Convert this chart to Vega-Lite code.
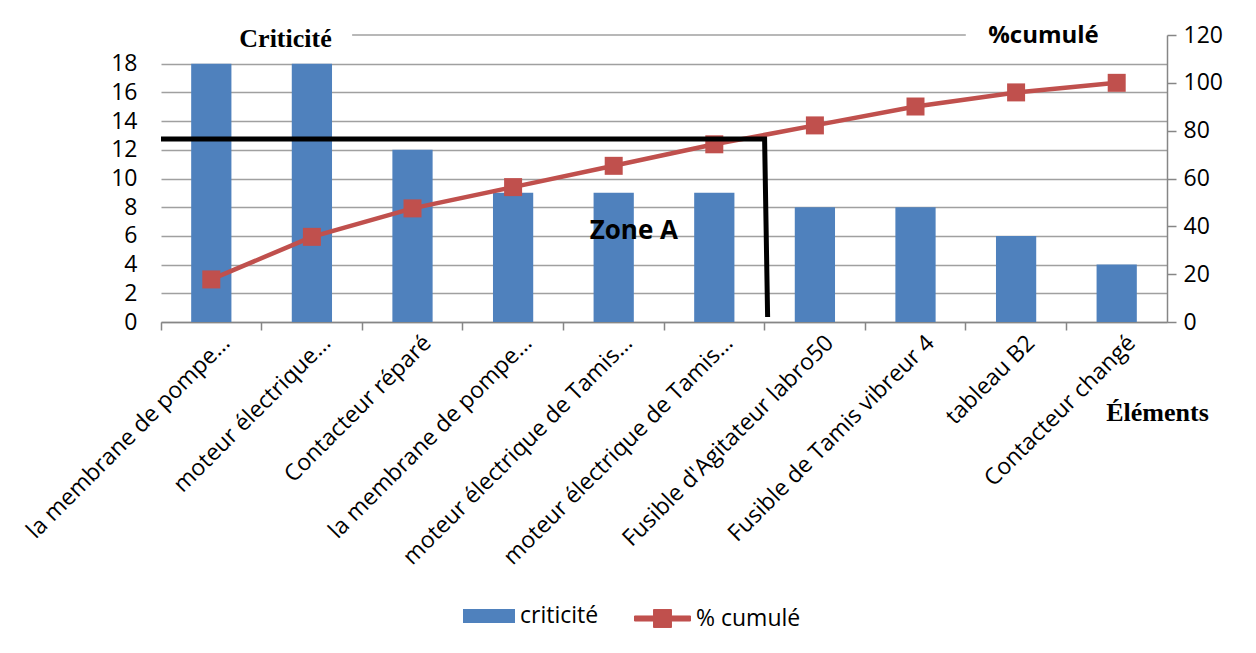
{
  "$schema": "https://vega.github.io/schema/vega-lite/v6.json",
  "width": 1006,
  "height": 287,
  "autosize": {"type": "none"},
  "padding": {"left": 161, "top": 35, "right": 89, "bottom": 331},
  "background": "white",
  "config": {
    "view": {"stroke": null},
    "font": "Open Sans",
    "axis": {"labelFont": "Open Sans", "labelColor": "black", "titleColor": "black"},
    "legend": {"labelFont": "Open Sans", "labelColor": "black"}
  },
  "datasets": {
    "pareto": [
      {"rang": 1, "element": "la membrane de pompe…", "criticite": 18, "cumul": 17.8},
      {"rang": 2, "element": "moteur électrique…", "criticite": 18, "cumul": 35.6},
      {"rang": 3, "element": "Contacteur réparé", "criticite": 12, "cumul": 47.5},
      {"rang": 4, "element": "la membrane de pompe…", "criticite": 9, "cumul": 56.4},
      {"rang": 5, "element": "moteur électrique de Tamis…", "criticite": 9, "cumul": 65.3},
      {"rang": 6, "element": "moteur électrique de Tamis…", "criticite": 9, "cumul": 74.3},
      {"rang": 7, "element": "Fusible d'Agitateur labro50", "criticite": 8, "cumul": 82.2},
      {"rang": 8, "element": "Fusible de Tamis vibreur 4", "criticite": 8, "cumul": 90.1},
      {"rang": 9, "element": "tableau B2", "criticite": 6, "cumul": 96.0},
      {"rang": 10, "element": "Contacteur changé", "criticite": 4, "cumul": 100}
    ]
  },
  "data": {"name": "pareto"},
  "layer": [
    {
      "layer": [
        {
          "mark": {"type": "bar"},
          "encoding": {
            "x": {
              "field": "rang",
              "type": "ordinal",
              "scale": {"paddingInner": 0.6, "paddingOuter": 0.3},
              "axis": {
                "bandPosition": -0.75,
                "labelExpr": "data('pareto')[datum.value - 1].element",
                "labelAngle": -45,
                "labelAlign": "right",
                "labelBaseline": "middle",
                "labelOffset": 15,
                "labelPadding": 9,
                "labelFontSize": 23,
                "labelLimit": 400,
                "labelBound": false,
                "labelOverlap": false,
                "labelFlush": false,
                "domainColor": "#868686",
                "domainWidth": 1.5,
                "tickColor": "#868686",
                "tickWidth": 1.5,
                "tickSize": 8,
                "grid": false,
                "title": "Éléments",
                "titleX": 996,
                "titleY": 90,
                "titleAlign": "center",
                "titleBaseline": "middle",
                "titleFont": "Liberation Serif",
                "titleFontSize": 26,
                "titleFontWeight": "bold"
              }
            },
            "y": {
              "field": "criticite",
              "type": "quantitative",
              "scale": {"domain": [0, 20], "nice": false},
              "axis": {
                "orient": "left",
                "values": [0, 2, 4, 6, 8, 10, 12, 14, 16, 18],
                "domain": false,
                "ticks": false,
                "grid": true,
                "gridColor": "#a0a0a0",
                "gridWidth": 1.5,
                "labelPadding": 24,
                "labelFontSize": 23,
                "title": "Criticité",
                "titleAngle": 0,
                "titleX": 124,
                "titleY": 3,
                "titleAlign": "center",
                "titleBaseline": "middle",
                "titleFont": "Liberation Serif",
                "titleFontSize": 26,
                "titleFontWeight": "bold"
              }
            },
            "fill": {
              "datum": "criticité",
              "scale": {"range": ["#4F81BD"]},
              "legend": {
                "orient": "none",
                "legendX": 302,
                "legendY": 555,
                "title": null,
                "padding": 0,
                "symbolType": "M-1,-0.27H1V0.27H-1Z",
                "symbolSize": 2704,
                "symbolStrokeWidth": 0,
                "labelFontSize": 23,
                "labelOffset": 5
              }
            }
          }
        },
        {
          "encoding": {
            "x": {"field": "rang", "type": "ordinal"},
            "y": {
              "field": "cumul",
              "type": "quantitative",
              "scale": {"domain": [0, 120], "nice": false},
              "axis": {
                "orient": "right",
                "values": [0, 20, 40, 60, 80, 100, 120],
                "grid": false,
                "domainColor": "#868686",
                "domainWidth": 1.5,
                "tickColor": "#868686",
                "tickWidth": 1.5,
                "tickSize": 9,
                "labelPadding": 7,
                "labelFontSize": 23,
                "title": "%cumulé",
                "titleAngle": 0,
                "titleX": -124,
                "titleY": 0,
                "titleAlign": "center",
                "titleBaseline": "middle",
                "titleFont": "Open Sans",
                "titleFontSize": 24,
                "titleFontWeight": "bold"
              }
            }
          },
          "layer": [
            {
              "mark": {"type": "line", "strokeWidth": 4.5},
              "encoding": {
                "stroke": {
                  "datum": "% cumulé",
                  "scale": {"range": ["#C0504D"]},
                  "legend": {
                    "orient": "none",
                    "legendX": 473,
                    "legendY": 555,
                    "title": null,
                    "padding": 0,
                    "symbolType": "M-1,-0.09H-0.32V-0.32H0.32V-0.09H1V0.09H0.32V0.32H-0.32V0.09H-1Z",
                    "symbolSize": 3136,
                    "symbolFillColor": "#C0504D",
                    "symbolStrokeWidth": 1,
                    "labelFontSize": 23,
                    "labelOffset": 5
                  }
                }
              }
            },
            {
              "mark": {"type": "point", "shape": "square", "filled": true, "size": 324, "color": "#C0504D", "opacity": 1}
            }
          ]
        }
      ],
      "resolve": {"scale": {"y": "independent"}}
    },
    {
      "data": {
        "values": [
          {"k": 1, "zx": 0, "zy": 76.5},
          {"k": 2, "zx": 6.0, "zy": 76.5},
          {"k": 3, "zx": 6.03, "zy": 2.1}
        ]
      },
      "encoding": {
        "x": {"field": "zx", "type": "quantitative", "scale": {"domain": [0, 10], "nice": false, "zero": false}, "axis": null},
        "y": {"field": "zy", "type": "quantitative", "scale": {"domain": [0, 120], "nice": false}, "axis": null}
      },
      "layer": [
        {
          "data": {"values": [{"zx": 1.9, "zx2": 8.0, "zy": 120}]},
          "mark": {"type": "rule", "color": "#a0a0a0", "strokeWidth": 1.5},
          "encoding": {"x2": {"field": "zx2"}}
        },
        {
          "mark": {"type": "line", "color": "black", "strokeWidth": 5, "strokeJoin": "miter"},
          "encoding": {"order": {"field": "k", "type": "quantitative"}}
        },
        {
          "data": {"values": [{"zx": 4.7, "zy": 38, "zone": "Zone A"}]},
          "mark": {"type": "text", "font": "Open Sans", "fontSize": 26, "fontWeight": "bold", "color": "black", "align": "center", "baseline": "middle"},
          "encoding": {"text": {"field": "zone"}}
        }
      ]
    }
  ],
  "resolve": {"scale": {"x": "independent", "y": "independent"}}
}
